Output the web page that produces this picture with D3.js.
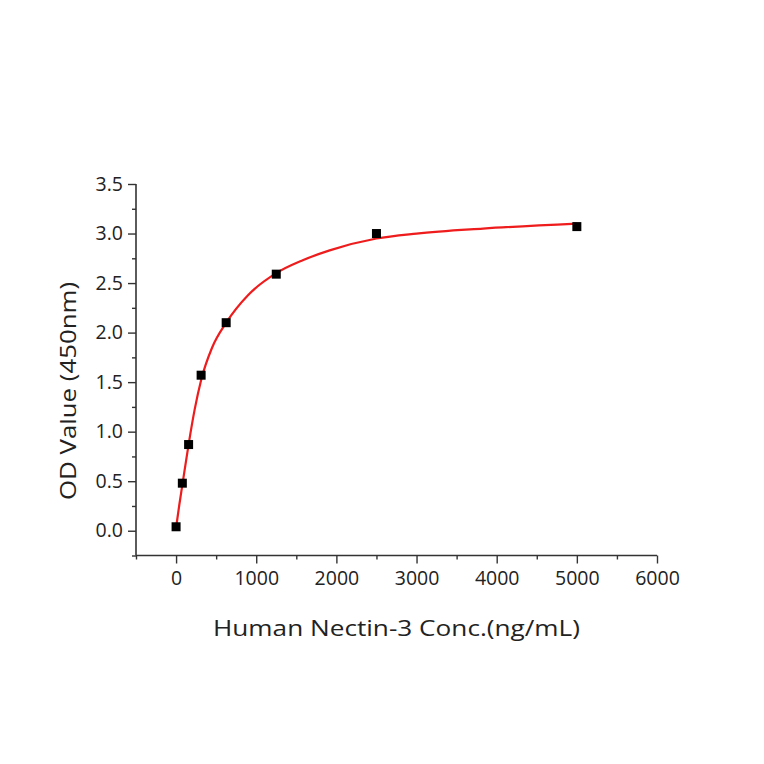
<!DOCTYPE html>
<html><head><meta charset="utf-8">
<script src="https://cdn.jsdelivr.net/npm/d3@7"></script>
<style>html,body{margin:0;padding:0;background:#fff;}</style>
</head><body>
<svg id="c" width="764" height="764"></svg>
<script>
// measured data
const concentrations = [0, 78.125, 156.25, 312.5, 625, 1250, 2500, 5000];
const odValues = [0.04, 0.48, 0.87, 1.57, 2.10, 2.59, 3.00, 3.07];
// fitted curve
const fitX = [0, 40, 78, 156, 231, 312, 450, 625, 900, 1250, 1580, 1916, 2500, 3000, 3830, 5000];
const fitY = [0.03, 0.26, 0.46, 0.87, 1.22, 1.52, 1.85, 2.10, 2.38, 2.60, 2.73, 2.83, 2.95, 3.00, 3.05, 3.10];
const xTicks = [0, 1000, 2000, 3000, 4000, 5000, 6000];
const yTicks = [0.0, 0.5, 1.0, 1.5, 2.0, 2.5, 3.0, 3.5];
const xMinor = [-500, 500, 1500, 2500, 3500, 4500, 5500];
const yMinor = [-0.25, 0.25, 0.75, 1.25, 1.75, 2.25, 2.75, 3.25];
const xTitle = "Human Nectin-3 Conc.(ng/mL)";
const yTitle = "OD Value (450nm)";

const svg = d3.select("#c");
const x = d3.scaleLinear().domain([-500, 6000]).range([136, 657]);
const y = d3.scaleLinear().domain([-0.25, 3.5]).range([555.5, 184]);
const axisColor = "#333";
const font = "'Open Sans', sans-serif";

// X axis
const gx = svg.append("g").attr("transform", `translate(0,${y(-0.25)})`)
  .call(d3.axisBottom(x).tickValues(xTicks).tickSize(8).tickPadding(8).tickFormat(d3.format("d")));
svg.append("g").attr("transform", `translate(0,${y(-0.25)})`)
  .call(d3.axisBottom(x).tickValues(xMinor).tickSize(4).tickFormat(""))
  .call(g => g.select(".domain").remove());
// Y axis
const gy = svg.append("g").attr("transform", `translate(${x(-500)},0)`)
  .call(d3.axisLeft(y).tickValues(yTicks).tickSize(8).tickPadding(5).tickFormat(d3.format(".1f")));
svg.append("g").attr("transform", `translate(${x(-500)},0)`)
  .call(d3.axisLeft(y).tickValues(yMinor).tickSize(4).tickFormat(""))
  .call(g => g.select(".domain").remove());

svg.selectAll(".domain").attr("stroke", axisColor).attr("stroke-width", 1.6);
svg.selectAll(".tick line").attr("stroke", axisColor).attr("stroke-width", 1.4);
svg.selectAll(".tick text").attr("fill", "#222").style("font-family", font).style("font-size", "19.5px");
svg.selectAll(".domain").attr("d", function(){
  return this.parentNode === gx.node() ? `M${x(-500)},0H${x(6000)}` : `M0,${y(-0.25)}V${y(3.5)}`;
});

// Fit curve
const fitData = fitX.map((v, i) => [v, fitY[i]]);
svg.append("path").datum(fitData)
  .attr("fill", "none").attr("stroke", "#ee1c1c").attr("stroke-width", 2.2)
  .attr("d", d3.line().x(d => x(d[0])).y(d => y(d[1])).curve(d3.curveMonotoneX));

// Points
const s = 9;
svg.selectAll("rect.pt").data(concentrations).join("rect").attr("class", "pt")
  .attr("x", (d) => x(d) - s/2).attr("y", (d, i) => y(odValues[i]) - s/2)
  .attr("width", s).attr("height", s).attr("fill", "#000");

// Titles
svg.append("text").attr("x", 396.5).attr("y", 636).attr("text-anchor", "middle")
  .style("font-family", font).style("font-size", "22.5px").attr("fill", "#222")
  .attr("textLength", 367).attr("lengthAdjust", "spacingAndGlyphs").text(xTitle);
svg.append("text").attr("transform", "translate(76,391) rotate(-90)").attr("text-anchor", "middle")
  .style("font-family", font).style("font-size", "22.5px").attr("fill", "#222")
  .attr("textLength", 218).attr("lengthAdjust", "spacingAndGlyphs").text(yTitle);
</script>
</body></html>
